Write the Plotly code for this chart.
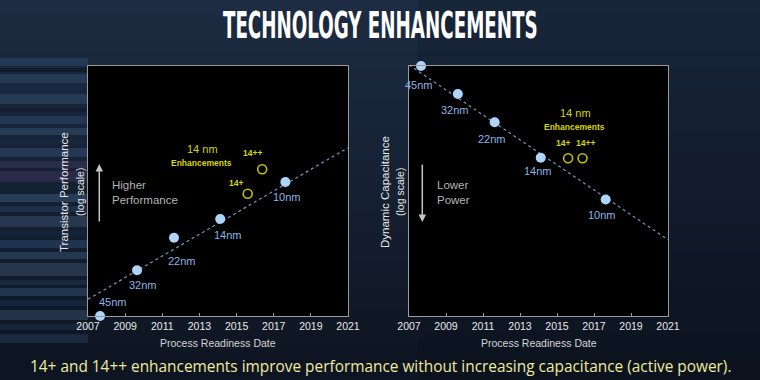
import plotly.graph_objects as go

# ---------------- data ----------------
nodes = ["45nm", "32nm", "22nm", "14nm", "10nm"]
node_years = [2007.65, 2009.64, 2011.63, 2014.12, 2017.63]
perf_vals = [0.0, 18.3, 31.3, 38.8, 53.6]          # log-scale performance (arbitrary units)
cap_vals = [100.0, 88.8, 77.5, 63.3, 46.6]          # log-scale capacitance (arbitrary units)

enh_labels = ["14+", "14++"]
enh_years = [2015.6, 2016.38]
enh_perf = [48.9, 58.7]
enh_cap = [63.1, 63.1]

trend_years = [2007, 2021]
perf_trend = [6.7, 67.3]
cap_trend = [100.4, 30.5]

tick_years = [2007, 2009, 2011, 2013, 2015, 2017, 2019, 2021]

TITLE = "TECHNOLOGY ENHANCEMENTS"
FOOTER = "14+ and 14++ enhancements improve performance without increasing capacitance (active power)."

# ---------------- styles ----------------
W, H = 760, 380
FONT = "Liberation Sans"
PT_COLOR = "#aed4fa"
LBL_COLOR = "#8cb4e6"
TREND_COLOR = "#7296b8"
YEL = "#d8d400"
YEL_RING = "#c4bf00"
FRAME = "#9a9a9a"

def px(x):
    return x / W

def py(y):
    return 1 - y / H

# label pixel offsets (xshift, yshift)
perf_lbl_shift = [(13, 14), (6, -15), (8, -23), (8, -16), (2, -15)]
cap_lbl_shift = [(-2, -19), (-3, -16), (-3, -17), (-3, -13), (-4, -15)]
perf_enh_shift = [(-12, 11), (-10, 16)]
cap_enh_shift = [(-5, 15), (3, 15)]

fig = go.Figure()

# background gradient bands
shapes = []
top = (29, 44, 66)
bot = (14, 21, 34)
n = 38
for i in range(n):
    t = i / (n - 1)
    c = tuple(int(top[k] + (bot[k] - top[k]) * t) for k in range(3))
    shapes.append(dict(type="rect", xref="paper", yref="paper", x0=-0.05, x1=1.05,
                       y0=1 - (i + 1) / n, y1=1 - i / n, fillcolor="rgb(%d,%d,%d)" % c,
                       line=dict(width=0), layer="below"))
# darker right side
shapes.append(dict(type="rect", xref="paper", yref="paper", x0=0.55, x1=1.05, y0=0, y1=1,
                   fillcolor="rgba(5,10,20,0.18)", line=dict(width=0), layer="below"))

# decorative streaks at left edge (y pixel top, height, colour)
streaks = [
    (58, 8, "rgba(38,62,96,0.7)"), (68, 4, "rgba(14,24,40,0.8)"), (74, 9, "rgba(44,70,104,0.6)"),
    (86, 5, "rgba(22,40,66,0.8)"), (94, 10, "rgba(50,78,112,0.5)"), (108, 4, "rgba(18,30,50,0.8)"),
    (116, 8, "rgba(40,66,100,0.6)"), (128, 7, "rgba(56,84,118,0.5)"), (139, 5, "rgba(22,38,62,0.8)"),
    (148, 9, "rgba(46,72,106,0.6)"), (161, 7, "rgba(72,62,106,0.4)"), (171, 11, "rgba(62,50,92,0.5)"),
    (186, 5, "rgba(18,32,54,0.8)"), (194, 8, "rgba(52,80,114,0.6)"), (206, 6, "rgba(30,54,86,0.7)"),
    (216, 11, "rgba(60,88,122,0.45)"), (231, 5, "rgba(20,36,60,0.8)"), (240, 8, "rgba(42,68,102,0.6)"),
    (252, 7, "rgba(54,82,116,0.5)"), (263, 13, "rgba(62,88,118,0.45)"), (280, 5, "rgba(28,48,76,0.7)"),
    (288, 8, "rgba(46,72,104,0.6)"), (300, 6, "rgba(22,40,66,0.8)"), (310, 10, "rgba(52,78,110,0.5)"),
    (324, 6, "rgba(28,48,74,0.6)"), (334, 9, "rgba(38,62,94,0.45)"),
]
for (y0, h, col) in streaks:
    shapes.append(dict(type="rect", xref="paper", yref="paper", x0=-0.05, x1=px(88),
                       y0=py(y0 + h), y1=py(y0), fillcolor=col, line=dict(width=0), layer="below"))

# black plot areas (drawn above the background bands)
for xr, yr in [("x domain", "y domain"), ("x2 domain", "y2 domain")]:
    shapes.append(dict(type="rect", xref=xr, yref=yr, x0=0, x1=1, y0=0, y1=1,
                       fillcolor="#000000", line=dict(width=0), layer="below"))

# ---------------- traces ----------------
for xa, ya, vals, trend, evals in [("x", "y", perf_vals, perf_trend, enh_perf),
                                   ("x2", "y2", cap_vals, cap_trend, enh_cap)]:
    fig.add_trace(go.Scatter(x=trend_years, y=trend, mode="lines", xaxis=xa, yaxis=ya,
                             line=dict(color=TREND_COLOR, width=1.2, dash="3px,3px"),
                             hoverinfo="skip", showlegend=False))
    fig.add_trace(go.Scatter(x=node_years, y=vals, mode="markers", xaxis=xa, yaxis=ya,
                             marker=dict(size=10, color=PT_COLOR), cliponaxis=False,
                             text=nodes, showlegend=False))
    fig.add_trace(go.Scatter(x=enh_years, y=evals, mode="markers", xaxis=xa, yaxis=ya,
                             marker=dict(size=9, symbol="circle-open", color=YEL_RING,
                                         line=dict(width=1.6, color=YEL_RING)),
                             text=enh_labels, showlegend=False))

# ---------------- annotations ----------------
ann = []
for i, name in enumerate(nodes):
    dx, dy = perf_lbl_shift[i]
    ann.append(dict(x=node_years[i], y=perf_vals[i], xref="x", yref="y", text=name,
                    showarrow=False, xshift=dx, yshift=dy,
                    font=dict(family=FONT, size=11, color=LBL_COLOR)))
    dx, dy = cap_lbl_shift[i]
    ann.append(dict(x=node_years[i], y=cap_vals[i], xref="x2", yref="y2", text=name,
                    showarrow=False, xshift=dx, yshift=dy,
                    font=dict(family=FONT, size=11, color=LBL_COLOR)))
for i, name in enumerate(enh_labels):
    dx, dy = perf_enh_shift[i]
    ann.append(dict(x=enh_years[i], y=enh_perf[i], xref="x", yref="y", text="<b>" + name + "</b>",
                    showarrow=False, xshift=dx, yshift=dy,
                    font=dict(family=FONT, size=8.5, color=YEL)))
    dx, dy = cap_enh_shift[i]
    ann.append(dict(x=enh_years[i], y=enh_cap[i], xref="x2", yref="y2", text="<b>" + name + "</b>",
                    showarrow=False, xshift=dx, yshift=dy,
                    font=dict(family=FONT, size=8.5, color=YEL)))

def txt(x, y, s, size, color, anchor="center", angle=0, family=FONT, bold=False):
    if bold:
        s = "<b>" + s + "</b>"
    ann.append(dict(x=px(x), y=py(y), xref="paper", yref="paper", text=s, showarrow=False,
                    xanchor=anchor, yanchor="middle", textangle=angle,
                    font=dict(family=family, size=size, color=color)))

# "14 nm Enhancements"
txt(202.7, 149, "14 nm", 11, YEL)
txt(201, 162.7, "Enhancements", 8.5, YEL, bold=True)
txt(575.7, 112.7, "14 nm", 11, YEL)
txt(574, 126.7, "Enhancements", 8.5, YEL, bold=True)

# direction notes
ann.append(dict(x=px(110), y=py(192.6), xref="paper", yref="paper", text="Higher<br>Performance",
                showarrow=False, xanchor="left", yanchor="middle", align="left",
                font=dict(family=FONT, size=11.5, color="#b4b4b4")))
ann.append(dict(x=px(435), y=py(192.6), xref="paper", yref="paper", text="Lower<br>Power",
                showarrow=False, xanchor="left", yanchor="middle", align="left",
                font=dict(family=FONT, size=11.5, color="#b4b4b4")))
# arrows
ann.append(dict(x=px(99.3), y=py(164), xref="paper", yref="paper", text="", showarrow=True,
                ax=0, ay=59, arrowhead=2, arrowsize=1, arrowwidth=1.5, arrowcolor="#c4c4c4"))
ann.append(dict(x=px(422.3), y=py(222), xref="paper", yref="paper", text="", showarrow=True,
                ax=0, ay=-59, arrowhead=2, arrowsize=1, arrowwidth=1.5, arrowcolor="#c4c4c4"))

# axis titles
txt(64, 192, "Transistor Performance", 11.5, "#e6e6e6", angle=-90)
txt(80, 192, "(log scale)", 10.5, "#e6e6e6", angle=-90)
txt(385, 192, "Dynamic Capacitance", 11.5, "#e6e6e6", angle=-90)
txt(400, 192, "(log scale)", 10.5, "#e6e6e6", angle=-90)
txt(218, 342.5, "Process Readiness Date", 10.5, "#d4d4d4")
txt(539, 342.5, "Process Readiness Date", 10.5, "#d4d4d4")

# title and footer
txt(380, 25, TITLE, 20.3, "#ffffff",
    family="DejaVu Sans Condensed, Roboto Condensed, Liberation Sans", bold=True)
txt(380, 366, FOOTER, 15.4, "#eeea9e", family="Open Sans")

axis_common = dict(showgrid=False, zeroline=False, showline=True, mirror=True,
                   linecolor=FRAME, linewidth=1, automargin=False)
xcommon = dict(axis_common, range=[2007, 2021], tickvals=tick_years, ticks="inside", ticklen=3,
               tickcolor=FRAME, tickfont=dict(family=FONT, size=10.5, color="#e8e8e8"))
ycommon = dict(axis_common, range=[0, 100], showticklabels=False, ticks="")

fig.update_layout(
    width=W, height=H, autosize=False,
    margin=dict(l=0, r=0, t=0, b=0, pad=0, autoexpand=False),
    paper_bgcolor="#18253a", plot_bgcolor="#000000",
    xaxis=dict(xcommon, domain=[px(88), px(348)], anchor="y"),
    yaxis=dict(ycommon, domain=[py(316), py(66)], anchor="x"),
    xaxis2=dict(xcommon, domain=[px(409), px(668)], anchor="y2"),
    yaxis2=dict(ycommon, domain=[py(316), py(66)], anchor="x2"),
    shapes=shapes, annotations=ann, showlegend=False,
)

post = """
document.body.style.margin='0';
document.body.style.overflow='hidden';
document.querySelectorAll('.annotation-text').forEach(function(el){
  if (el.textContent.trim() === '%s') {
    el.style.transformBox = 'fill-box';
    el.style.transformOrigin = 'center';
    el.style.transform = 'scaleY(1.85)';
  }
});
""" % TITLE

fig.write_html("out.html", config={"displayModeBar": False}, post_script=post)
